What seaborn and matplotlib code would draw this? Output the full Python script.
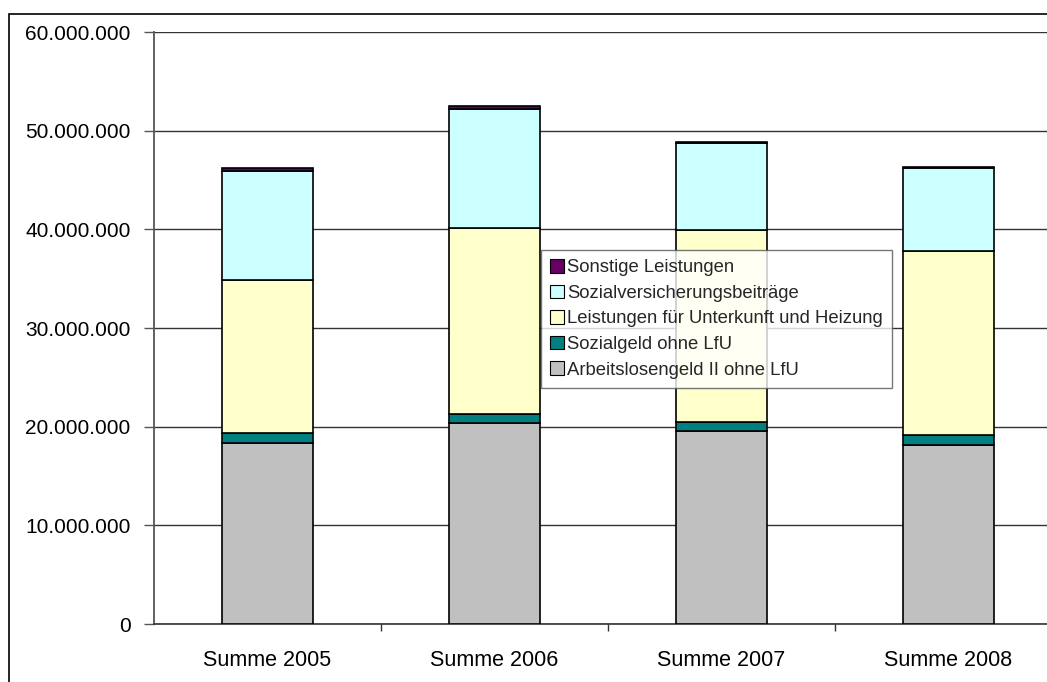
import numpy as np
import pandas as pd
import matplotlib
matplotlib.use("Agg")
import matplotlib.pyplot as plt
import matplotlib.patches as mpatches
import matplotlib.ticker as mticker
import seaborn as sns

# Werte in Euro
jahre = ["Summe 2005", "Summe 2006", "Summe 2007", "Summe 2008"]
alg2 = [18_350_000, 20_370_000, 19_560_000, 18_140_000]
sozialgeld = [1_010_000, 910_000, 940_000, 1_010_000]
kdu = [15_500_000, 18_850_000, 19_400_000, 18_680_000]
sozialvers = [11_050_000, 12_070_000, 8_880_000, 8_350_000]
sonstige = [300_000, 330_000, 120_000, 120_000]

reihen = ["Arbeitslosengeld II ohne LfU", "Sozialgeld ohne LfU",
          "Leistungen für Unterkunft und Heizung", "Sozialversicherungsbeiträge",
          "Sonstige Leistungen"]
farben = ["#C0C0C0", "#008080", "#FFFFCC", "#CCFFFF", "#660066"]

df = pd.DataFrame({"Jahr": jahre, reihen[0]: alg2, reihen[1]: sozialgeld,
                   reihen[2]: kdu, reihen[3]: sozialvers, reihen[4]: sonstige})

sns.set_theme(style="white")
plt.rcParams["font.family"] = ["Liberation Sans", "DejaVu Sans"]

fig = plt.figure(figsize=(10.47, 6.82), dpi=100)
ax = fig.add_axes([154 / 1047, 1 - 624 / 682, 908 / 1047, 592 / 682])

# gestapelte Balken: von unten nach oben mit bottom
unten = np.zeros(len(jahre))
for name, farbe in zip(reihen, farben):
    sns.barplot(data=df, x="Jahr", y=name, ax=ax, color=farbe, width=0.4,
                bottom=unten, edgecolor="black", linewidth=1.2, saturation=1,
                zorder=3)
    unten = unten + df[name].to_numpy()

ax.set_xlim(-0.5, 3.5)
ax.set_ylim(0, 60_000_000)
ax.yaxis.set_major_locator(mticker.MultipleLocator(10_000_000))
ax.yaxis.set_major_formatter(mticker.FuncFormatter(lambda v, p: f"{int(v):,}".replace(",", ".")))
ax.grid(axis="y", color="#333333", linewidth=1, zorder=0)
ax.set_xlabel("")
ax.set_ylabel("")

for s in ["top", "right"]:
    ax.spines[s].set_visible(False)
ax.spines["left"].set_color("#555555")
ax.spines["bottom"].set_color("#333333")
ax.spines["left"].set_linewidth(1.3)
ax.spines["bottom"].set_linewidth(1.2)

ax.tick_params(axis="y", which="major", direction="out", length=7, width=1,
               color="#555555", labelsize=15, pad=10, left=True)
ax.tick_params(axis="x", which="major", length=0, labelsize=15.5, pad=19)
ax.xaxis.set_minor_locator(mticker.FixedLocator([0.5, 1.5, 2.5, 3.5]))
ax.tick_params(axis="x", which="minor", direction="out", length=5, width=1,
               color="#333333", bottom=True)
for lab in ax.get_yticklabels() + ax.get_xticklabels():
    lab.set_color("black")

handles = [mpatches.Patch(facecolor=f, edgecolor="black", linewidth=0.8, label=r)
           for r, f in zip(reihen, farben)][::-1]
leg = ax.legend(handles=handles, loc="upper left",
                bbox_to_anchor=((541 - 154) / 908, (624 - 250) / 592),
                frameon=True, fancybox=False, fontsize=13.3, handlelength=0.75,
                handleheight=0.75, handletextpad=0.15, labelspacing=0.45,
                borderpad=0.5, borderaxespad=0)
leg.get_frame().set_edgecolor("#555555")
leg.get_frame().set_linewidth(1)
leg.set_zorder(5)

# äußerer Rahmen des Diagrammbereichs
rahmen = mpatches.Rectangle((8.5 / 1047, -0.1), 1.2, 1 - 13.5 / 682 + 0.1,
                            transform=fig.transFigure, fill=False,
                            edgecolor="black", linewidth=1.2)
fig.patches.append(rahmen)

fig.savefig("out.png", dpi=100)
